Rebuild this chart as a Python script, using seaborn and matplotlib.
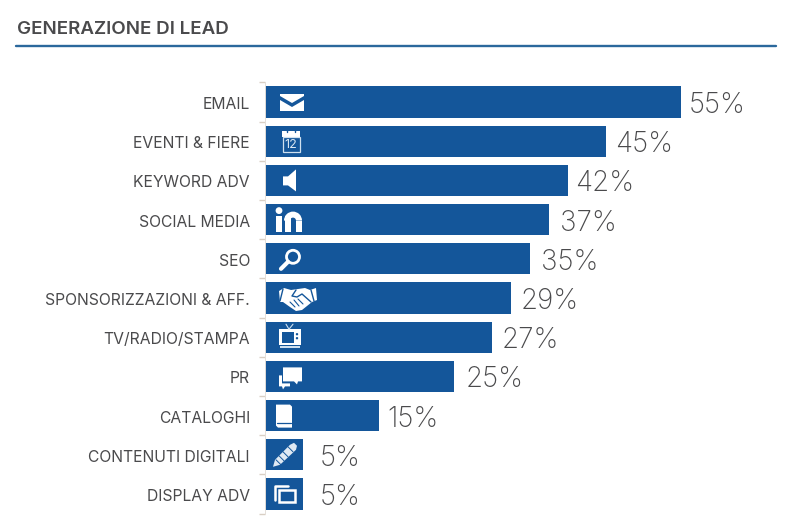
import numpy as np
import pandas as pd
import matplotlib
matplotlib.use("Agg")
import matplotlib.pyplot as plt
import seaborn as sns
from matplotlib.patches import Polygon, Rectangle, Circle, Wedge
from matplotlib.lines import Line2D
from matplotlib.transforms import Affine2D, ScaledTranslation

categories = ["EMAIL", "EVENTI & FIERE", "KEYWORD ADV", "SOCIAL MEDIA", "SEO",
              "SPONSORIZZAZIONI & AFF.", "TV/RADIO/STAMPA", "PR", "CATALOGHI",
              "CONTENUTI DIGITALI", "DISPLAY ADV"]
# bar lengths as drawn, they differ a little from the printed numbers
bar_lengths = [55, 45, 40, 37.5, 35, 32.5, 30, 25, 15, 5, 5]
printed = ["55%", "45%", "42%", "37%", "35%", "29%", "27%", "25%", "15%", "5%", "5%"]
title = "GENERAZIONE DI LEAD"

BLUE = "#14569a"
GREY = "#4a4a4c"
W, H = 800, 526

sns.set_theme(style="white")
plt.rcParams["font.family"] = ["Inter", "DejaVu Sans"]

df = pd.DataFrame({"cat": categories, "val": bar_lengths})

fig = plt.figure(figsize=(8, 5.26), dpi=100, facecolor="white")
ax = fig.add_axes([265 / W, 1 - 513.6 / H, 530 / W, 431.2 / H])
sns.barplot(data=df, y="cat", x="val", color=BLUE, saturation=1, width=0.8, linewidth=0, ax=ax, orient="h")
ax.set_xlim(0, 70)
ax.set_ylim(10.5, -0.5)
ax.set_xlabel("")
ax.set_ylabel("")
ax.xaxis.set_visible(False)
for s in ["top", "right", "bottom"]:
    ax.spines[s].set_visible(False)
ax.spines["left"].set_color("#e4dfd9")
ax.spines["left"].set_linewidth(0.7)
ax.set_yticks(np.arange(-0.5, 11, 1), minor=True)
ax.tick_params(axis="y", which="minor", length=4, width=1, color="#d9cfc4", left=True)
ax.tick_params(axis="y", which="major", length=0, pad=15 * 0.72, labelsize=11.3, labelcolor=GREY)
down = ScaledTranslation(0, -1 / 100, fig.dpi_scale_trans)
for lab in ax.get_yticklabels():
    lab.set_transform(lab.get_transform() + down)

pads = [5, 7, 5, 8, 8, 7, 6.5, 8, 6, 12, 12]
for i, (v, t, pad) in enumerate(zip(bar_lengths, printed, pads)):
    ax.annotate(t, (v, i), xytext=(pad, -2.5), textcoords="offset points", ha="left", va="center",
                fontsize=20, color=GREY, fontweight="light")

# title and rule
fig.text(17 / W, 1 - 29 / H, title, fontsize=13.5, fontweight="semibold", color=GREY, va="center")
fig.add_artist(Line2D([16 / W, 776 / W], [1 - 45.5 / H] * 2, color="#2b689c", lw=1.7))


def place(i, xoff):
    # local pixel coordinates around the bar centre, y pointing down
    cx, cy = ax.transData.transform((0, i))
    return Affine2D().scale(1, -1).translate(cx + xoff, cy)


def put(tr, *patches):
    for p in patches:
        p.set_transform(tr)
        p.set_clip_on(False)
        ax.add_artist(p)


def poly(pts, fc="white", ec="none", lw=0):
    return Polygon(pts, closed=True, fc=fc, ec=ec, lw=lw)


def stroke(pts, color="white", lw=1.2):
    return Line2D([p[0] for p in pts], [p[1] for p in pts], color=color, lw=lw, solid_capstyle="round")


def icon_mail(tr):
    put(tr, poly([(-12, -8), (12, -8), (12, -6), (0, 1), (-12, -6)]),
        poly([(-12, -2), (0, 5), (12, -2), (12, 9), (-12, 9)]))


def icon_calendar(tr):
    put(tr, Rectangle((-9, -10), 18, 6, fc="white", ec="none"),
        Rectangle((-8.5, -4), 17, 15, fc="none", ec="#cfe0ef", lw=0.9),
        stroke([(-4, -12), (-4, -9)], BLUE, 1), stroke([(4, -12), (4, -9)], BLUE, 1))
    t = ax.text(0, 3.5, "12", color="#dbe8f3", fontsize=9, ha="center", va="center", transform=tr)
    t.set_clip_on(False)


def icon_speaker(tr):
    put(tr, poly([(-7, -4), (-2, -4), (6, -11), (6, 11), (-2, 5), (-7, 5)]))


def icon_linkedin(tr):
    put(tr, Rectangle((-13, -4), 6, 16, fc="white", ec="none"), Circle((-10, -9), 3.4, fc="white", ec="none"),
        Rectangle((-4, -4), 6, 16, fc="white", ec="none"), Rectangle((7, 1), 6, 11, fc="white", ec="none"),
        Wedge((4, 1), 9, 180, 360, width=6, fc="white", ec="none"))
    # wedge is flipped by the local y axis, so it arches over the stems


def icon_search(tr):
    put(tr, Circle((3, -2), 6.5, fc="none", ec="white", lw=2.0), stroke([(-2, 3), (-9, 10)], "white", 3.0))


def icon_handshake(tr):
    put(tr, poly([(-19, -7), (-14, -10), (-7, -8), (0, -9), (7, -10), (12, -8), (18, -10), (19, 2),
                  (14, 4), (4, 12), (-2, 13), (-8, 9), (-15, 4), (-18, 4)]),
        stroke([(-15, -9), (-18, 3)], BLUE, 1), stroke([(13, -8), (16, 3)], BLUE, 1),
        stroke([(-2, -8), (-6, -2), (-1, -1), (4, -4), (13, 4)], BLUE, 1),
        stroke([(-8, 4), (-3, 9)], BLUE, 0.8), stroke([(-4, 2), (1, 8)], BLUE, 0.8), stroke([(0, 1), (5, 6)], BLUE, 0.8))


def icon_tv(tr):
    put(tr, stroke([(-4, -13), (-1, -8), (3, -13)], "#cfe0ef", 0.8),
        Rectangle((-11, -8), 22, 16, fc="white", ec="none"),
        Rectangle((-8.5, -5.5), 12, 11, fc=BLUE, ec="none"),
        Circle((7, -3), 1.2, fc=BLUE, ec="none"), Circle((7, 1), 1.2, fc=BLUE, ec="none"),
        Rectangle((-10, 9), 20, 1.6, fc="#cfe0ef", ec="none"))


def icon_chat(tr):
    put(tr, poly([(-8, -9), (11, -9), (11, 5), (7, 5), (6, 8), (3, 5), (-8, 5)]),
        poly([(-12, -1), (-9, -1), (-9, 7), (-1, 7), (-1, 10), (-6, 10), (-8, 13), (-9, 10), (-12, 10)]))


def icon_book(tr):
    put(tr, poly([(-8, -11), (6, -11), (8, -9), (8, 12), (-6, 12), (-8, 10)]),
        stroke([(-7, 7), (7, 7)], BLUE, 0.9))


def icon_pencil(tr):
    put(tr, poly([(-12, 12), (-10, 5), (5, -10), (9, -12), (12, -9), (11, -5), (-5, 10)], fc="#dfe9f3"),
        stroke([(-9, 5), (-4, 10)], BLUE, 0.7), stroke([(-6, 1), (-1, 6)], BLUE, 0.7),
        stroke([(-2, -3), (3, 2)], BLUE, 0.7), stroke([(3, -8), (8, -3)], BLUE, 0.7))


def icon_windows(tr):
    put(tr, stroke([(-10, 6), (-10, -8), (3, -8)], "white", 1.8),
        Rectangle((-6, -4), 16, 12, fc="none", ec="white", lw=1.8))


icons = [icon_mail, icon_calendar, icon_speaker, icon_linkedin, icon_search, icon_handshake,
         icon_tv, icon_chat, icon_book, icon_pencil, icon_windows]
icon_x = [27, 26, 25, 24, 25, 33, 25, 26, 19, 20, 20]
for i, (draw, xo) in enumerate(zip(icons, icon_x)):
    draw(place(i, xo))

fig.savefig("out.png", dpi=100, facecolor="white")
